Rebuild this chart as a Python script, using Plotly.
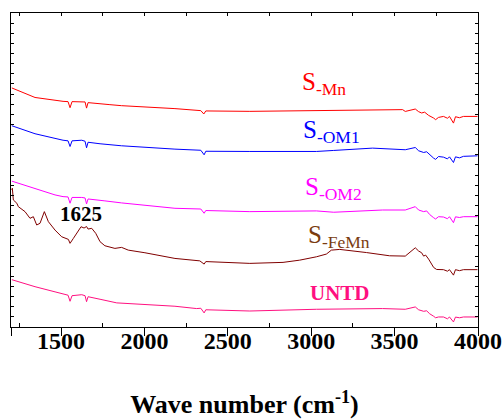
import plotly.graph_objects as go

# ---------------- data ----------------
wn_mn = [1205, 1344, 1512, 1542, 1554, 1566, 1632, 1644, 1653, 1662, 1793, 1863, 2183, 2313, 2338, 2356, 2368,
         2632, 3031, 3350, 3548, 3564, 3596, 3624, 3644, 3662, 3680, 3704, 3734, 3746, 3763, 3793, 3817, 3829,
         3853, 3865, 3889, 3913, 3997]
t_mn = [23.60, 22.66, 22.28, 22.25, 21.65, 22.25, 22.22, 22.22, 21.61, 22.15, 21.95, 21.85, 21.56, 21.36, 21.36,
        21.03, 21.33, 21.29, 21.36, 21.46, 21.46, 21.28, 21.41, 21.52, 21.26, 21.13, 21.21, 20.89, 20.63, 20.47,
        20.69, 20.79, 20.61, 20.79, 20.13, 20.76, 20.66, 20.79, 20.79]

wn_om1 = [1205, 1344, 1512, 1542, 1554, 1566, 1624, 1644, 1653, 1662, 1734, 1863, 2183, 2313, 2338, 2358, 2368,
          2632, 3031, 3135, 3332, 3368, 3564, 3596, 3624, 3644, 3674, 3692, 3710, 3734, 3746, 3763, 3793, 3817,
          3829, 3853, 3865, 3889, 3913, 3997]
t_om1 = [19.87, 19.08, 18.44, 18.38, 17.82, 18.38, 18.44, 18.34, 17.69, 18.24, 18.09, 17.89, 17.56, 17.43, 17.45,
         17.00, 17.35, 17.33, 17.33, 17.43, 17.66, 17.66, 17.50, 17.59, 17.72, 17.40, 17.23, 17.30, 17.00, 16.67,
         16.55, 16.83, 16.77, 16.60, 16.80, 16.24, 16.80, 16.70, 16.85, 16.90]

wn_om2 = [1205, 1344, 1464, 1512, 1542, 1554, 1566, 1624, 1644, 1653, 1662, 1763, 1863, 2183, 2313, 2338, 2358,
          2368, 2632, 3031, 3135, 3428, 3564, 3596, 3624, 3644, 3674, 3692, 3710, 3734, 3746, 3763, 3793, 3817,
          3829, 3853, 3865, 3889, 3913, 3997]
t_om2 = [14.40, 13.63, 13.04, 12.87, 12.84, 12.22, 12.79, 12.79, 12.74, 12.15, 12.64, 12.45, 12.25, 11.72, 11.62,
         11.65, 11.23, 11.50, 11.39, 11.46, 11.33, 11.55, 11.55, 11.70, 11.88, 11.55, 11.39, 11.46, 11.11, 10.79,
         10.66, 10.89, 10.86, 10.69, 10.89, 10.30, 10.88, 10.81, 10.89, 10.89]

wn_femn = [1205, 1208, 1214, 1235, 1244, 1284, 1314, 1334, 1354, 1374, 1400, 1424, 1464, 1504, 1544, 1554, 1574,
           1594, 1620, 1638, 1653, 1662, 1684, 1708, 1734, 1763, 1823, 1863, 1903, 2003, 2183, 2332, 2358, 2368,
           2530, 2632, 2831, 2931, 3031, 3091, 3121, 3171, 3331, 3470, 3564, 3596, 3624, 3644, 3662, 3674, 3686,
           3704, 3734, 3752, 3793, 3817, 3829, 3853, 3865, 3889, 3913, 3997]
t_femn = [13.53, 13.70, 12.54, 12.22, 11.88, 11.39, 10.73, 10.89, 10.07, 10.24, 11.39, 10.40, 9.57, 8.91, 8.65,
          8.26, 8.75, 9.25, 9.90, 9.77, 9.92, 9.67, 9.74, 9.25, 8.42, 8.02, 7.76, 7.86, 7.59, 7.33, 6.77, 6.53,
          6.21, 6.46, 6.34, 6.28, 6.38, 6.60, 6.93, 7.20, 7.59, 7.66, 7.35, 7.03, 7.00, 7.40, 7.82, 7.50, 7.33,
          7.00, 7.10, 6.70, 5.88, 5.68, 5.66, 5.51, 5.66, 5.12, 5.66, 5.56, 5.66, 5.66]

wn_untd = [1205, 1344, 1464, 1512, 1542, 1554, 1566, 1624, 1644, 1653, 1662, 1734, 1834, 2183, 2313, 2338, 2358,
           2368, 2632, 3031, 3428, 3564, 3596, 3624, 3644, 3674, 3692, 3710, 3734, 3746, 3763, 3793, 3817, 3829,
           3853, 3865, 3889, 3913, 3997]
t_untd = [4.67, 3.98, 3.47, 3.24, 3.14, 2.54, 3.09, 3.19, 3.09, 2.50, 2.99, 2.74, 2.38, 2.05, 1.82, 1.85, 1.39,
          1.70, 1.58, 1.75, 1.82, 1.75, 1.85, 1.98, 1.70, 1.55, 1.60, 1.31, 1.06, 0.91, 0.99, 0.99, 0.81, 0.99,
          0.50, 0.98, 0.91, 0.99, 0.99]

x_tickvals = [1200, 1500, 2000, 2500, 3000, 3500, 4000]
x_ticktext = ["", "1500", "2000", "2500", "3000", "3500", "4000"]
x_minor = [1250, 1750, 2250, 2750, 3250, 3750]

series = [
    ("S-Mn", wn_mn, t_mn, "#FF0000"),
    ("S-OM1", wn_om1, t_om1, "#0000FF"),
    ("S-OM2", wn_om2, t_om2, "#FF00FF"),
    ("S-FeMn", wn_femn, t_femn, "#800000"),
    ("UNTD", wn_untd, t_untd, "#FF1080"),
]

# labels: (text, x, y, color, size)
labels = [
    ("S<sub>-Mn</sub>", 3078, 24.03, "#FF0000", 25),
    ("S<sub>-OM1</sub>", 3120, 19.33, "#0000FF", 25),
    ("S<sub>-OM2</sub>", 3135, 13.68, "#FF00FF", 25),
    ("S<sub>-FeMn</sub>", 3165, 8.93, "#7A3C10", 25),
    ("<b>UNTD</b>", 3174, 3.39, "#FF1080", 21),
    ("<b>1625</b>", 1620, 11.11, "#000000", 21),
]

FONT = "Liberation Serif, Times New Roman, serif"

fig = go.Figure()
for name, xs, ys, col in series:
    fig.add_trace(go.Scatter(x=xs, y=ys, mode="lines", name=name,
                             line=dict(color=col, width=1), showlegend=False))

# invisible trace to activate the top axis
fig.add_trace(go.Scatter(x=[1200, 4000], y=[0, 0], xaxis="x2", mode="lines",
                         line=dict(width=0), hoverinfo="skip", showlegend=False))

for text, x, y, col, size in labels:
    fig.add_annotation(x=x, y=y, text=text, showarrow=False,
                       font=dict(family=FONT, size=size, color=col),
                       xanchor="center", yanchor="middle")

fig.update_layout(
    width=504, height=420,
    margin=dict(l=11, r=26, t=13, b=93, autoexpand=False),
    paper_bgcolor="white", plot_bgcolor="white",
    font=dict(family=FONT, color="black"),
    xaxis=dict(
        range=[1200, 4000], showgrid=False, zeroline=False,
        showline=True, linecolor="black", linewidth=1, mirror=True,
        tickmode="array", tickvals=x_tickvals, ticktext=x_ticktext,
        ticks="outside", ticklen=8, tickwidth=1, tickcolor="black",
        ticklabelstandoff=-16,
        tickfont=dict(family=FONT, size=24, color="black", weight="bold"),
        minor=dict(tickmode="array", tickvals=x_minor, ticks="inside",
                   ticklen=4, tickwidth=1, tickcolor="black", showgrid=False),
        title=dict(text="<b>Wave number (cm<sup>-1</sup>)</b>",
                   font=dict(family=FONT, size=26, color="black"), standoff=42),
    ),
    xaxis2=dict(
        overlaying="x", side="top", range=[1200, 4000], showgrid=False,
        zeroline=False, showline=False, showticklabels=False,
        tickmode="linear", tick0=1250, dtick=250, ticks="inside",
        ticklen=3, tickwidth=1, tickcolor="black",
    ),
    yaxis=dict(
        range=[0, 31], showgrid=False, zeroline=False,
        showline=True, linecolor="black", linewidth=1, mirror="ticks",
        tickmode="linear", tick0=0, dtick=1, ticks="inside", ticklen=3,
        tickwidth=1, tickcolor="black", showticklabels=False,
    ),
)

fig.write_html("out.html", config={"displayModeBar": False},
               post_script="document.body.style.margin='0';document.body.style.overflow='hidden';")
